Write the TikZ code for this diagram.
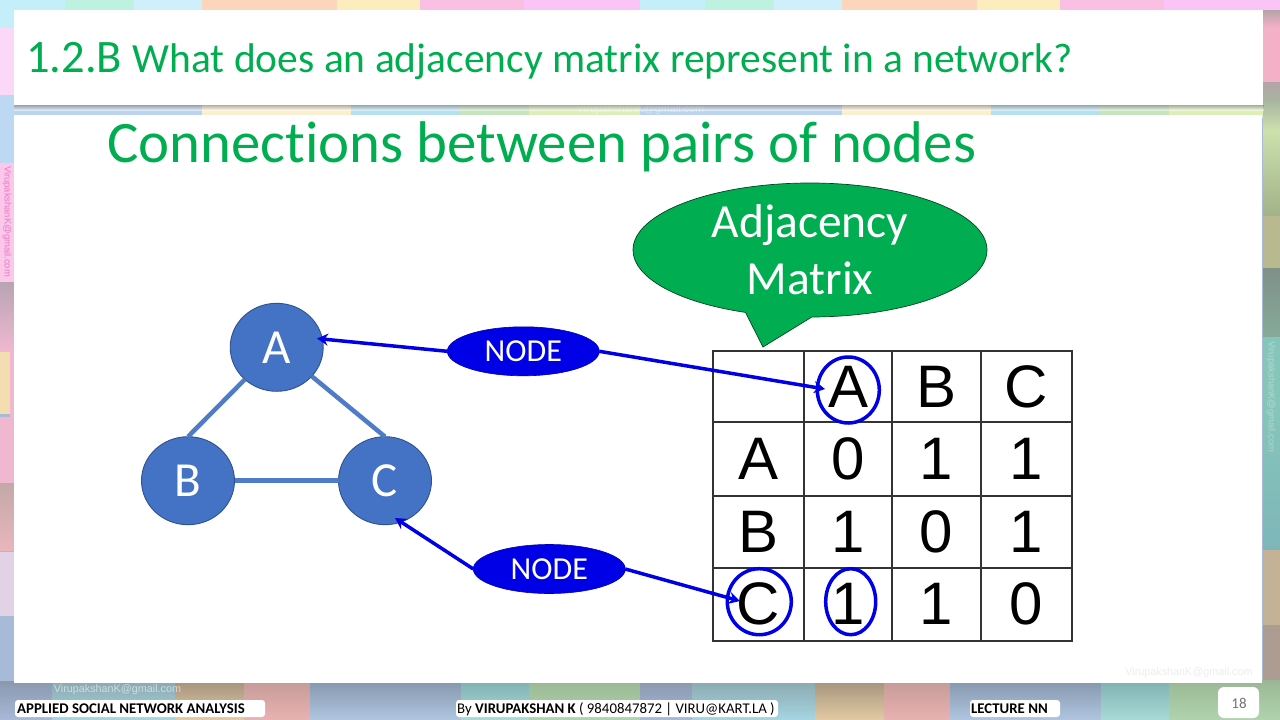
\documentclass[tikz,border=0pt]{standalone}
\usepackage{fontspec}
\setmainfont[Ligatures=NoCommon]{Carlito}
\newfontfamily\arialf{Liberation Sans}
\usetikzlibrary{shapes.geometric,shapes.callouts,arrows.meta}
\definecolor{hdgreen}{HTML}{00AD50}
\definecolor{nodeblue}{HTML}{4472C4}
\definecolor{nodeedge}{HTML}{2F528F}
\definecolor{edgeblue}{HTML}{4F7CC6}
\definecolor{pure}{HTML}{0000E6}
\definecolor{tcyan}{HTML}{C4EEFA}
\definecolor{tmint}{HTML}{BDF2E0}
\definecolor{tsky}{HTML}{CFEFFB}
\definecolor{tpeach}{HTML}{FBD5BC}
\definecolor{tyellow}{HTML}{FDECBE}
\definecolor{tpink}{HTML}{FAC0E4}
\definecolor{tlilac}{HTML}{FBC4F6}
\definecolor{bblue}{HTML}{BBD3EE}
\definecolor{bcream}{HTML}{FBEFCF}
\definecolor{bcyan}{HTML}{B4E0F0}
\definecolor{bgreen}{HTML}{C6E4BE}
\definecolor{byell}{HTML}{DDEFB8}
\definecolor{sblue}{HTML}{A7BAD8}
\definecolor{sblueT}{HTML}{8A97AE}
\definecolor{stealT}{HTML}{8AA7AE}
\definecolor{steal}{HTML}{A6D6E2}
\definecolor{stanT}{HTML}{A3927C}
\definecolor{stan}{HTML}{E3CBA3}
\definecolor{spinkT}{HTML}{C49A96}
\definecolor{spink}{HTML}{EAB2B2}
\definecolor{sbluT}{HTML}{8496AC}
\definecolor{sblu}{HTML}{B0C6E0}
\definecolor{stelT}{HTML}{7FB0B0}
\definecolor{stel}{HTML}{A8DCD8}
\definecolor{sgrT}{HTML}{9AB794}
\definecolor{sgr}{HTML}{B0D4AE}
\definecolor{lpale}{HTML}{FCD8F8}
\definecolor{lblueb}{HTML}{BCD8F2}
\definecolor{lpink}{HTML}{FCC8EA}
\definecolor{lgrey}{HTML}{B8A4B4}
\definecolor{lrose}{HTML}{F0B8D0}
\definecolor{lcream}{HTML}{F5DDB2}
\definecolor{lgreyb}{HTML}{C4A8A8}
\definecolor{lroseb}{HTML}{E8B6BC}
\definecolor{llil}{HTML}{E2D2E6}
\definecolor{rpk}{HTML}{F4B0C6}
\definecolor{rgrey}{HTML}{B4A4A8}
\definecolor{rga}{HTML}{A8B4A0}
\definecolor{rgb}{HTML}{CCE0AC}
\definecolor{rol}{HTML}{A2B28A}
\definecolor{rkh}{HTML}{B9B990}
\definecolor{rgt}{HTML}{7F9088}
\definecolor{rgtb}{HTML}{86AA9A}
\definecolor{rtl}{HTML}{86C6BA}
\definecolor{rtd}{HTML}{7EB6B8}
\definecolor{rtan}{HTML}{C4B296}
\definecolor{rmv}{HTML}{AC9C92}
\definecolor{wpink}{HTML}{E878C8}
\newcommand{\tilebox}[6]{\shade[top color=#5,bottom color=#6,draw=none] (#1,#2) rectangle (#3,#4);}
\newcommand{\txtsize}[1]{\fontsize{#1}{#1}\selectfont}
\tikzset{
  graphnode/.style={ellipse,draw=nodeedge,line width=0.9pt,fill=nodeblue,text=white,minimum width=93,minimum height=88,inner sep=0pt,outer sep=0pt,font=\txtsize{49}},
  tagnode/.style={ellipse,draw=pure!80!black,line width=0.6pt,fill=pure,text=white,minimum width=152,minimum height=49,inner sep=0pt,outer sep=0pt,font=\txtsize{32}},
  linkedge/.style={draw=edgeblue,line width=4.5pt},
  pointer/.style={draw=pure,line width=3.5pt,-{Stealth[length=11pt,width=12pt]}},
  cellbox/.style={draw=black!80,line width=1.9pt,inner sep=0pt,outer sep=0pt,font=\arialf\txtsize{60},text=black,anchor=center},
  colone/.style={minimum width=91.6},
  coltwo/.style={minimum width=87.4},
  colthree/.style={minimum width=89.3},
  colfour/.style={minimum width=91.3},
  rowone/.style={minimum height=71.3},
  rowtwo/.style={minimum height=73.4},
  rowthree/.style={minimum height=72},
  rowfour/.style={minimum height=73.3},
  ringnode/.style={ellipse,draw=pure,line width=3.5pt,inner sep=0pt,outer sep=0pt},
  wmark/.style={font=\arialf\txtsize{10.8},inner sep=0pt},
  footbox/.style={fill=white,draw=none,rounded corners=3pt},
  foottext/.style={font=\txtsize{14.8},text=black,inner sep=0pt,anchor=base west},
}
\begin{document}
\begin{tikzpicture}[x=1pt,y=-1pt]
\useasboundingbox (0,0) rectangle (1280,720);
\fill[sblue] (0,0) rectangle (1280,720);
% top, middle and bottom bands (repeat every 640)
\foreach \o in {0,640}{
  \begin{scope}[xshift=\o pt]
  \fill[tcyan]   (0,0) rectangle (65,12);
  \fill[tmint]   (65,0) rectangle (134,12);
  \fill[tsky]    (134,0) rectangle (202,12);
  \fill[tpeach]  (202,0) rectangle (337,12);
  \fill[tyellow] (337,0) rectangle (420,12);
  \fill[tpink]   (420,0) rectangle (524,12);
  \fill[tlilac]  (524,0) rectangle (640,12);
  \fill[bblue]   (0,100) rectangle (202,118);
  \fill[bcream]  (202,100) rectangle (351,118);
  \fill[bcyan]   (351,100) rectangle (459,118);
  \fill[bgreen]  (459,100) rectangle (529,118);
  \fill[byell]   (529,100) rectangle (640,118);
  \tilebox{0}{680}{52}{720}{sblueT}{sblue}
  \tilebox{52}{680}{175}{720}{stealT}{steal}
  \tilebox{175}{680}{244}{720}{stanT}{stan}
  \tilebox{244}{680}{310}{720}{spinkT}{spink}
  \tilebox{310}{680}{461}{720}{sbluT}{sblu}
  \tilebox{461}{680}{529}{720}{stelT}{stel}
  \tilebox{529}{680}{640}{720}{sgrT}{sgr}
  \end{scope}
}
% left strip
\fill[tcyan] (0,10) rectangle (14,28);
\fill[lpale] (0,28) rectangle (14,95);
\tilebox{0}{95}{14}{163}{lblueb}{lblueb}
\fill[lpink] (0,163) rectangle (14,282);
\tilebox{0}{282}{14}{352}{lgrey}{lrose}
\fill[lrose] (10,352) rectangle (14,417);
\fill[lcream] (0,352) rectangle (10,414);
\fill[lrose] (0,417) rectangle (14,483);
\tilebox{0}{483}{14}{550}{lgreyb}{lroseb}
\fill[llil] (0,552) rectangle (14,616);
\tilebox{0}{616}{14}{680}{sblue}{sblue}
% right strip
\fill[tlilac] (1263,0) rectangle (1280,10);
\tilebox{1263}{10}{1280}{27}{rgrey}{rpk}
\fill[rpk] (1263,27) rectangle (1280,82);
\tilebox{1263}{82}{1280}{100}{rgrey}{rga}
\tilebox{1263}{100}{1280}{130}{rga}{rgb}
\tilebox{1263}{130}{1280}{216}{rgb}{rol}
\fill[rkh] (1263,216) rectangle (1280,268);
\tilebox{1263}{268}{1280}{337}{rgt}{rgtb}
\tilebox{1263}{337}{1280}{403}{rtl}{rtl}
\tilebox{1263}{403}{1280}{550}{rtl}{rtd}
\fill[rtan] (1263,550) rectangle (1280,625);
\fill[rmv] (1263,625) rectangle (1280,680);
% watermarks on the background
\node[wmark,text=white,opacity=.45] (wtop) at (640.5,109.5) {VirupakshanK@gmail.com};
\node[wmark,text=white,opacity=.55] (wbot) at (117.5,689.5) {VirupakshanK@gmail.com};
\node[wmark,text=wpink,rotate=-90,font=\arialf\txtsize{9.4}] (wleft) at (7,221.5) {VirupakshanK@gmail.com};
\node[wmark,text=white,opacity=.35,rotate=-90,font=\arialf\txtsize{9.4}] (wright) at (1271,397) {VirupakshanK@gmail.com};
% panels and title shadow
\shade[top color=black!55,bottom color=black!0,opacity=.5] (14,105) rectangle (1264,110);
\fill[white] (14,10) rectangle (1263,105);
\fill[white] (14,115) rectangle (1262,683);
\node[wmark,text=black!7] (wpanel) at (1189,673) {VirupakshanK@gmail.com};
% titles
\node[inner sep=0pt,anchor=base west,text=hdgreen] (title) at (26,72) {\txtsize{46.5}1.2.B \txtsize{41.5}What does an adjacency matrix represent in a network?};
\node[inner sep=0pt,anchor=base west,text=hdgreen,font=\txtsize{58.8}] (head) at (107,162) {Connections between pairs of nodes};
% callout
\node[ellipse callout,draw=black!60!hdgreen,line width=0.7pt,fill=hdgreen,text=white,minimum width=354,minimum height=134,inner sep=0pt,outer sep=0pt,callout absolute pointer={(763,347)},callout pointer arc=22,align=center,font=\fontsize{47.5}{57}\selectfont] (bubble) at (810,250) {Adjacency\\Matrix};
% table
\node[cellbox,colone,rowone] (c00) at (758.5,386.7) {};
\node[cellbox,coltwo,rowone] (c01) at (848,386.7) {A};
\node[cellbox,colthree,rowone] (c02) at (936.4,386.7) {B};
\node[cellbox,colfour,rowone] (c03) at (1026.6,386.7) {C};
\node[cellbox,colone,rowtwo] (c10) at (758.5,459) {A};
\node[cellbox,coltwo,rowtwo] (c11) at (848,459) {0};
\node[cellbox,colthree,rowtwo] (c12) at (936.4,459) {1};
\node[cellbox,colfour,rowtwo] (c13) at (1026.6,459) {1};
\node[cellbox,colone,rowthree] (c20) at (758.5,531.7) {B};
\node[cellbox,coltwo,rowthree] (c21) at (848,531.7) {1};
\node[cellbox,colthree,rowthree] (c22) at (936.4,531.7) {0};
\node[cellbox,colfour,rowthree] (c23) at (1026.6,531.7) {1};
\node[cellbox,colone,rowfour] (c30) at (758.5,604.3) {C};
\node[cellbox,coltwo,rowfour] (c31) at (848,604.3) {1};
\node[cellbox,colthree,rowfour] (c32) at (936.4,604.3) {1};
\node[cellbox,colfour,rowfour] (c33) at (1026.6,604.3) {0};
% rings
\node[ringnode,minimum width=62,minimum height=66] (ringA) at (848.3,390) {};
\node[ringnode,minimum width=64,minimum height=66] (ringC) at (759.3,601.7) {};
\node[ringnode,minimum width=50,minimum height=66] (ringOne) at (850.7,601.7) {};
% graph
\node[graphnode] (A) at (276.7,347.3) {A};
\node[graphnode] (B) at (188,480.7) {B};
\node[graphnode] (C) at (385,480.7) {C};
\draw[linkedge] (A) -- (B.north);
\draw[linkedge] (A) -- (C.north);
\draw[linkedge] (B) -- (C);
% tags and pointers
\node[tagnode] (n1) at (523.3,351.3) {NODE};
\node[tagnode] (n2) at (549.3,569) {NODE};
\coordinate (tipA) at (317,338.5);
\coordinate (tipC) at (395,518);
\coordinate (tipRingA) at (825,389);
\coordinate (tipRingC) at (740,601);
\draw[pointer] (n1.west) -- (tipA);
\draw[pointer] (n1.east) -- (tipRingA);
\draw[pointer] (n2.west) -- (tipC);
\draw[pointer] (n2.east) -- (tipRingC);
% footer
\fill[footbox] (15,700) rectangle (265,717);
\fill[footbox] (456,700) rectangle (778,717);
\fill[footbox] (970,700) rectangle (1060,717);
\fill[footbox,rounded corners=6pt] (1218,687) rectangle (1259,718);
\node[foottext] (f1) at (17,713) {\bfseries APPLIED SOCIAL NETWORK ANALYSIS};
\node[foottext] (f2) at (457,713) {By \textbf{VIRUPAKSHAN K} ( 9840847872 | VIRU@KART.LA )};
\node[foottext] (f3) at (971,713) {\bfseries LECTURE NN};
\node[inner sep=0pt,text=black!55,font=\txtsize{15}] (pg) at (1239,703) {18};
\end{tikzpicture}
\end{document}
